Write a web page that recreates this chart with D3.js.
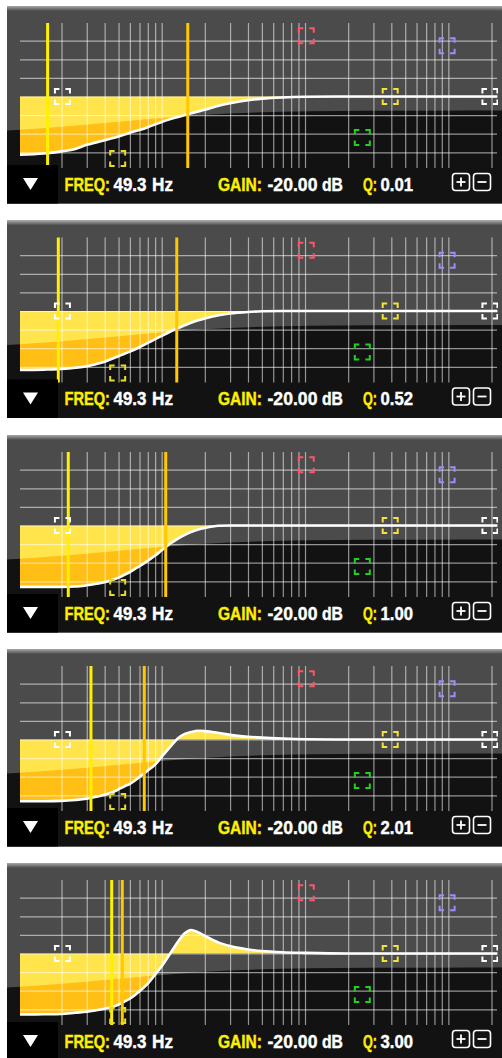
<!DOCTYPE html>
<html>
<head>
<meta charset="utf-8">
<script src="https://cdn.jsdelivr.net/npm/d3@7"></script>
<style>
  body { margin: 0; background: #fff; }
  svg { display: block; }
</style>
</head>
<body>
<svg id="chart" width="502" height="1058"></svg>
<script>
const curveFreqs = [10, 15, 20, 25, 30, 35, 40, 45, 50, 55, 60, 70, 80, 90, 100, 115, 130, 145, 160, 180, 200, 250, 300, 400, 500, 700, 1000, 2000, 22000];
// response in dB, one array per Q setting
const gainsQ001 = [-18.8, -18.4, -17.7, -16.9, -15.6, -14.8, -14.1, -13.5, -12.9, -12.3, -11.7, -10.8, -9.9, -9.0, -8.2, -7.3, -6.6, -6.0, -5.4, -4.8, -4.3, -3.0, -2.2, -1.2, -0.7, -0.3, -0.1, 0, 0];
const gainsQ052 = [-19.0, -18.9, -18.7, -18.3, -17.8, -17.1, -16.4, -15.4, -14.6, -13.8, -13.1, -11.7, -10.3, -9.1, -8.0, -6.6, -5.5, -4.6, -3.8, -3.0, -2.4, -1.4, -0.8, -0.3, -0.1, 0, 0, 0, 0];
const gainsQ100 = [-19.8, -19.8, -19.8, -19.7, -19.3, -18.8, -18.3, -17.6, -16.8, -15.9, -15.0, -13.1, -11.4, -9.7, -8.0, -5.8, -4.2, -3.0, -2.1, -1.3, -0.8, -0.1, 0, 0, 0, 0, 0, 0, 0];
const gainsQ201 = [-19.9, -19.9, -19.8, -19.5, -19.1, -18.5, -17.8, -17.1, -16.1, -15.1, -14.3, -12.1, -10.0, -8.1, -5.6, -2.3, 0.4, 1.8, 2.4, 2.8, 2.7, 2.1, 1.5, 0.9, 0.6, 0.3, 0.1, 0, 0];
const gainsQ300 = [-19.7, -19.6, -19.5, -19.1, -18.8, -18.3, -17.8, -17.3, -16.5, -15.5, -14.6, -12.2, -9.7, -6.8, -4.1, 0.1, 3.8, 6.5, 7.6, 6.8, 5.7, 3.5, 2.4, 1.3, 0.8, 0.4, 0.2, 0, 0];

const qLabels = ["0.01", "0.52", "1.00", "2.01", "3.00"];
// bandwidth marker lines (Hz)
const bandLow = [16.0, 19.0, 22.3, 32.1, 44.8];
const bandHigh = [152, 127.4, 106.7, 75.6, 53.1];

// EQ nodes
const nodeFreqs = [20.3, 49.3, 1020, 9800, 3930, 2510, 19500];
const nodeGains = [0, -20, 19.6, 16.4, 0, -13.2, 0];
const nodeColors = ["#ffffff", "#e6dc28", "#ff5568", "#9d8cff", "#f2e43c", "#22d022", "#ffffff"];

// grid
const gridFreqs = [20, 30, 40, 50, 60, 70, 80, 90, 100, 200, 300, 400, 500, 600, 700, 800, 900, 1000,
  2000, 3000, 4000, 5000, 6000, 7000, 8000, 9000, 10000, 20000];
const gridGains = [-18, -12, -6, 0, 6, 12, 18];

const freqLabel = "49.3";
const gainLabel = "-20.00";

const allGains = [gainsQ001, gainsQ052, gainsQ100, gainsQ201, gainsQ300];
const panelTops = [6, 220.5, 435, 649, 863];
const panelH = 197.5;

const svg = d3.select("#chart");

// Scales
const x = d3.scaleLog().domain([20, 20000]).range([61.5, 491.5]);
const y = d3.scaleLinear().domain([-20, 20]).range([152.5, 28.5]);

const defs = svg.append("defs");
const grad = defs.append("linearGradient").attr("id", "topGlow")
  .attr("x1", 0).attr("y1", 0).attr("x2", 0).attr("y2", 1);
grad.append("stop").attr("offset", "0%").attr("stop-color", "#a8a8a8");
grad.append("stop").attr("offset", "100%").attr("stop-color", "#4b4b4b");

const glossPath = "M7,124.5 C80,121 150,111 230,107.5 S400,105 502,104.5 L502," + panelH + " L7," + panelH + " Z";
defs.append("clipPath").attr("id", "darkClip").append("path").attr("d", glossPath);
defs.append("clipPath").attr("id", "plotClip").append("rect")
  .attr("x", 20).attr("y", 0).attr("width", 478).attr("height", panelH);

const line = d3.line()
  .x(d => x(d[0]))
  .y(d => y(d[1]))
  .curve(d3.curveMonotoneX);

const area = d3.area()
  .x(d => x(d[0]))
  .y0(y(0))
  .y1(d => y(d[1]))
  .curve(d3.curveMonotoneX);

function corners(cx, cy) {
  const h = 7.5, l = 4.5;
  return `M${cx - h},${cy - h + l}V${cy - h}H${cx - h + l}` +
    `M${cx + h - l},${cy - h}H${cx + h}V${cy - h + l}` +
    `M${cx + h},${cy + h - l}V${cy + h}H${cx + h - l}` +
    `M${cx - h + l},${cy + h}H${cx - h}V${cy + h - l}`;
}

allGains.forEach((gains, i) => {
  const data = curveFreqs.map((f, k) => [f, gains[k]]);
  const g = svg.append("g").attr("transform", "translate(0," + panelTops[i] + ")");

  // background
  g.append("rect").attr("x", 7).attr("y", 0).attr("width", 495).attr("height", panelH).attr("fill", "#4b4b4b");
  g.append("rect").attr("x", 7).attr("y", 0).attr("width", 495).attr("height", 5).attr("fill", "url(#topGlow)");
  g.append("path").attr("d", glossPath).attr("fill", "#121212");

  // yellow fill
  const plot = g.append("g").attr("clip-path", "url(#plotClip)");
  plot.append("path").datum(data).attr("d", area).attr("fill", "#ffe44c");
  plot.append("g").attr("clip-path", "url(#darkClip)")
    .append("path").datum(data).attr("d", area).attr("fill", "#ffbf14");

  // grid
  const vgrid = g.append("g")
    .attr("transform", "translate(0,162)")
    .call(d3.axisBottom(x).tickValues(gridFreqs).tickSizeInner(-145).tickSizeOuter(0).tickFormat(""));
  const hgrid = g.append("g")
    .attr("transform", "translate(20,0)")
    .call(d3.axisLeft(y).tickValues(gridGains).tickSizeInner(-477).tickSizeOuter(0).tickFormat(""));
  [vgrid, hgrid].forEach(ax => {
    ax.select(".domain").remove();
    ax.selectAll("line").attr("stroke", "#fff").attr("stroke-opacity", 0.55).attr("stroke-width", 1.2);
  });

  // bandwidth lines
  g.append("line").attr("x1", x(bandLow[i])).attr("x2", x(bandLow[i]))
    .attr("y1", 17).attr("y2", 162).attr("stroke", "#fff000").attr("stroke-width", 3);
  g.append("line").attr("x1", x(bandHigh[i])).attr("x2", x(bandHigh[i]))
    .attr("y1", 17).attr("y2", 162).attr("stroke", "#ffc800").attr("stroke-width", 3);

  // response curve
  plot.append("path").datum(data).attr("d", line)
    .attr("fill", "none").attr("stroke", "#fff").attr("stroke-width", 2.6);

  // nodes
  const nodes = g.append("g").attr("clip-path", "url(#plotClip)");
  nodeFreqs.forEach((f, k) => {
    nodes.append("path").attr("d", corners(x(f), y(nodeGains[k])))
      .attr("fill", "none").attr("stroke", nodeColors[k]).attr("stroke-width", 2);
  });

  // bottom bar
  g.append("rect").attr("x", 7).attr("y", 159).attr("width", 51).attr("height", panelH - 159).attr("fill", "#000");
  g.append("path").attr("d", "M23,172 L38,172 L30.5,184 Z").attr("fill", "#fff");

  const texts = [
    { t: "FREQ:", x: 64.5, w: 45.5, c: "#ffee00" },
    { t: freqLabel, x: 113.5, w: 33, c: "#ffffff" },
    { t: "Hz", x: 152, w: 21, c: "#ffffff" },
    { t: "GAIN:", x: 218, w: 44, c: "#ffee00" },
    { t: gainLabel, x: 267.5, w: 50, c: "#ffffff" },
    { t: "dB", x: 322, w: 21, c: "#ffffff" },
    { t: "Q:", x: 363, w: 14, c: "#ffee00" },
    { t: qLabels[i], x: 380.5, w: 32.5, c: "#ffffff" }
  ];
  texts.forEach(d => {
    // condensed look: measure the natural width, then squeeze horizontally
    const txt = g.append("text").attr("x", 0).attr("y", 0)
      .attr("font-family", "'Liberation Sans', Arial, sans-serif")
      .attr("font-weight", "bold").attr("font-size", 18)
      .attr("fill", d.c).attr("stroke", d.c).attr("stroke-width", 0.4)
      .text(d.t);
    const w0 = txt.node().getComputedTextLength();
    txt.attr("transform", `translate(${d.x},184.5) scale(${d.w / w0},1)`);
  });

  // plus / minus buttons
  [452.5, 473.5].forEach((bx, k) => {
    g.append("rect").attr("x", bx).attr("y", 167.5).attr("width", 17).attr("height", 17)
      .attr("rx", 3).attr("fill", "none").attr("stroke", "#fff").attr("stroke-width", 1.6);
    g.append("line").attr("x1", bx + 4).attr("x2", bx + 13).attr("y1", 176).attr("y2", 176)
      .attr("stroke", "#fff").attr("stroke-width", 1.8);
    if (k === 0) {
      g.append("line").attr("x1", bx + 8.5).attr("x2", bx + 8.5).attr("y1", 171.5).attr("y2", 180.5)
        .attr("stroke", "#fff").attr("stroke-width", 1.8);
    }
  });
});
</script>
</body>
</html>
